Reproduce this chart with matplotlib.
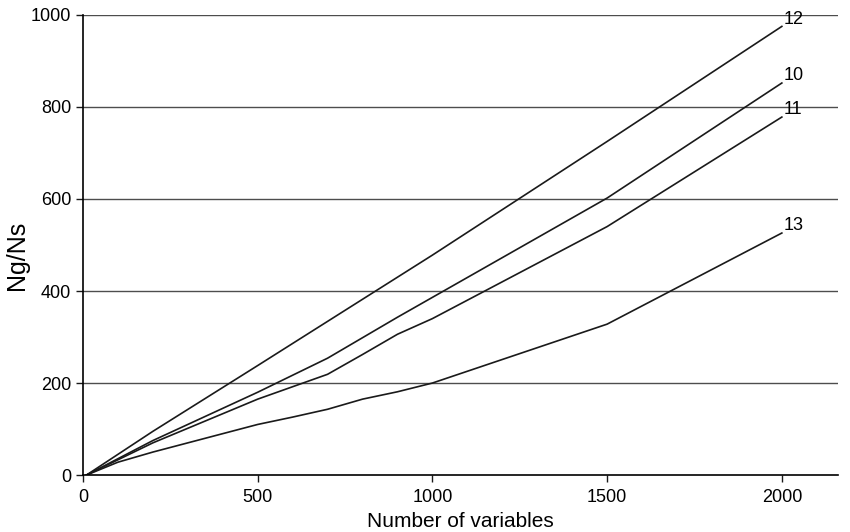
import matplotlib
matplotlib.use("Agg")
import matplotlib.pyplot as plt

plt.rcParams['font.family'] = ['Liberation Sans', 'DejaVu Sans']

# curve data
x12 = [10, 200, 500, 1000, 1500, 2000]
y12 = [0, 95, 238, 478, 725, 975]

x10 = [10, 200, 500, 700, 900, 1500, 2000]
y10 = [0, 75, 180, 254, 343, 602, 852]

x11 = [10, 200, 500, 700, 800, 900, 1000, 1500, 2000]
y11 = [0, 70, 165, 219, 262, 306, 340, 540, 778]

x13 = [10, 100, 200, 500, 600, 700, 800, 900, 1000, 1500, 2000]
y13 = [0, 28, 50, 110, 126, 143, 165, 181, 200, 328, 526]

labels = ['12', '10', '11', '13']

fig = plt.figure(figsize=(8.5, 5.32), dpi=100)
ax = fig.add_axes([0.0976, 0.107, 0.888, 0.865])

for y in [200, 400, 600, 800, 1000]:
    ax.axhline(y, color='#4d4d4d', lw=1.0, zorder=1)

series = [(x12, y12), (x10, y10), (x11, y11), (x13, y13)]
for (xs, ys), lab in zip(series, labels):
    ax.plot(xs, ys, color='#1a1a1a', lw=1.2, zorder=2)
    ax.annotate(lab, (xs[-1], ys[-1]), xytext=(1, -1), textcoords='offset points',
                fontsize=13, ha='left', va='bottom')

ax.set_xlim(0, 2160)
ax.set_ylim(0, 1000)
ax.set_xticks([0, 500, 1000, 1500, 2000])
ax.set_yticks([0, 200, 400, 600, 800, 1000])
ax.tick_params(labelsize=13, direction='out', length=5, width=1, color='#1a1a1a')
ax.tick_params(axis='x', pad=5)

for s in ['top', 'right']:
    ax.spines[s].set_visible(False)
ax.spines['left'].set_linewidth(1.2)
ax.spines['bottom'].set_linewidth(1.2)

ax.set_xlabel('Number of variables', fontsize=15, labelpad=4)
ax.set_ylabel('Ng/Ns', fontsize=18)
ax.yaxis.set_label_coords(-0.072, 0.478)

fig.savefig('out.png', dpi=100)
